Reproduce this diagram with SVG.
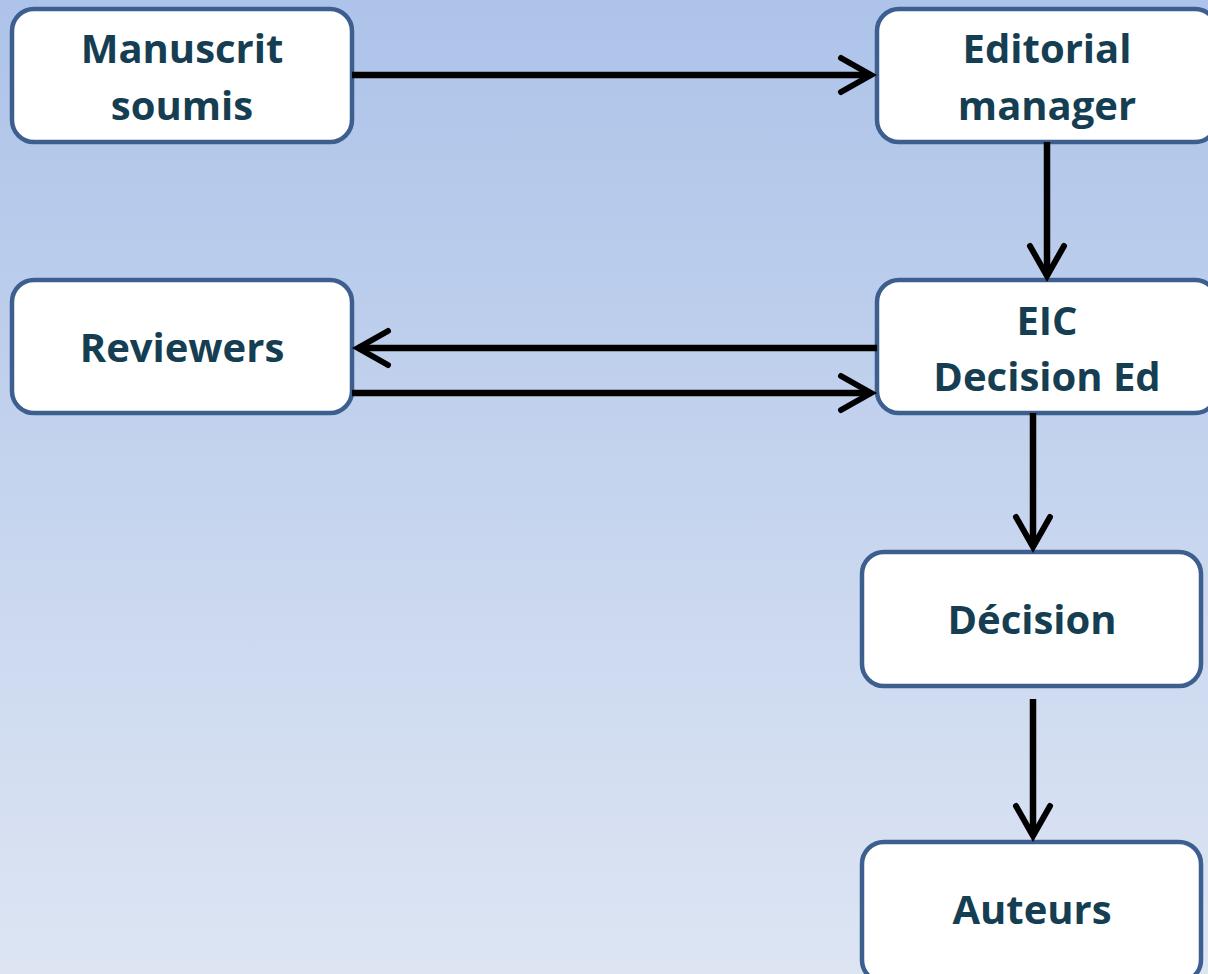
<svg xmlns="http://www.w3.org/2000/svg" width="1208" height="974" viewBox="0 0 1208 974">
<defs>
<linearGradient id="bg" x1="0" y1="0" x2="0" y2="1">
<stop offset="0" stop-color="#adc3e9"/>
<stop offset="1" stop-color="#dde5f3"/>
</linearGradient>
<marker id="arr" viewBox="0 0 20 20" refX="17" refY="10" markerWidth="20" markerHeight="20" markerUnits="userSpaceOnUse" orient="auto" overflow="visible">
<path d="M-13,-7 L17,10 L-13,27" fill="none" stroke="#000" stroke-width="6" stroke-linecap="round" stroke-linejoin="miter"/>
</marker>
<style>
.box{fill:#fff;stroke:#3d5f8f;stroke-width:4.5}
.t{font-family:"Open Sans","Liberation Sans",sans-serif;font-weight:bold;font-size:40px;fill:#153e52;text-anchor:middle}
.c{stroke:#000;stroke-width:6.5;fill:none}
</style>
</defs>
<rect width="1208" height="974" fill="url(#bg)"/>
<g id="manuscrit"><rect class="box" x="12" y="9" width="340" height="133" rx="22"/><text class="t" x="182" y="63">Manuscrit</text><text class="t" x="182" y="120">soumis</text></g>
<g id="editorial"><rect class="box" x="877" y="9" width="340" height="133" rx="22"/><text class="t" x="1047" y="63">Editorial</text><text class="t" x="1047" y="120">manager</text></g>
<g id="reviewers"><rect class="box" x="12" y="280" width="340" height="133" rx="22"/><text class="t" x="182" y="362">Reviewers</text></g>
<g id="eic"><rect class="box" x="877" y="280" width="340" height="133" rx="22"/><text class="t" x="1047" y="335">EIC</text><text class="t" x="1047" y="391">Decision Ed</text></g>
<g id="decision"><rect class="box" x="862" y="552" width="339" height="134" rx="22"/><text class="t" x="1032" y="634">Décision</text></g>
<g id="auteurs"><rect class="box" x="862" y="842" width="339" height="140" rx="22"/><text class="t" x="1032" y="924">Auteurs</text></g>
<g id="connectors">
<path class="c" d="M352,75 H871" marker-end="url(#arr)"/>
<path class="c" d="M1047,142 V276" marker-end="url(#arr)"/>
<path class="c" d="M877,348 H358" marker-end="url(#arr)"/>
<path class="c" d="M352,393 H871" marker-end="url(#arr)"/>
<path class="c" d="M1033,413 V547" marker-end="url(#arr)"/>
<path class="c" d="M1033,699 V836" marker-end="url(#arr)"/>
</g>
</svg>
